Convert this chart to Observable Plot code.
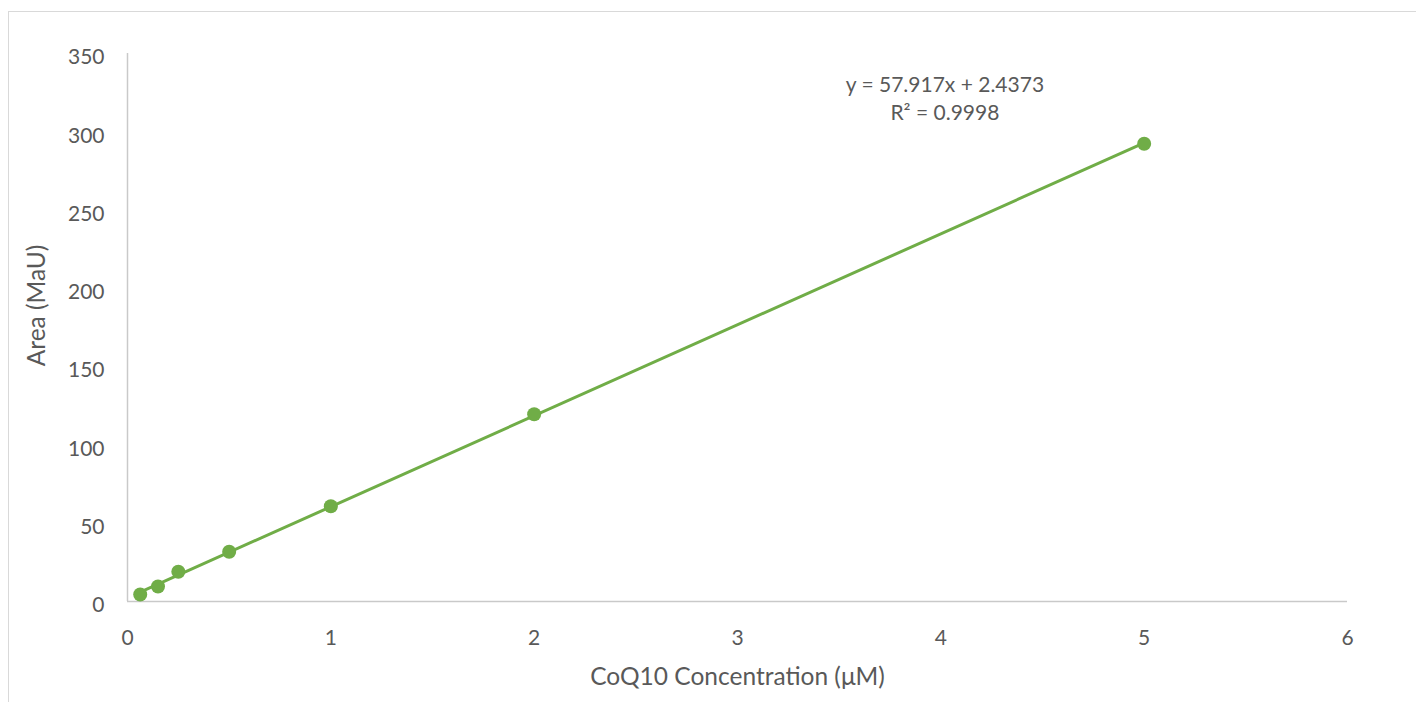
<!DOCTYPE html>
<html><head><meta charset="utf-8">
<script src="https://cdn.jsdelivr.net/npm/d3@7"></script>
<script src="https://cdn.jsdelivr.net/npm/@observablehq/plot@0.6"></script>
<style>
html,body{margin:0;padding:0;background:#fff;overflow:hidden}
#wrap{position:relative;width:1416px;height:702px}
#frame{position:absolute;left:8px;top:11px;width:1420px;height:700px;border:1.5px solid #d9d9d9;box-sizing:border-box}
#chart{position:absolute;left:0;top:0}
</style></head><body>
<div id="wrap"><div id="frame"></div><div id="chart"></div></div>
<script>
const concentration = [0.0625, 0.15, 0.25, 0.5, 1, 2, 5];
const area = [4.5, 9.6, 19, 31.8, 60.8, 119.6, 292.4];
const xTicks = [0, 1, 2, 3, 4, 5, 6];
const yTicks = [0, 50, 100, 150, 200, 250, 300, 350];
const equationText = "y = 57.917x + 2.4373\nR² = 0.9998";
const equationAt = {x: 4.02, y: 322};
const xTitle = "CoQ10 Concentration (μM)";
const yTitle = "Area (MaU)";

const data = concentration.map((x, i) => ({x, y: area[i]}));
const green = "#70AD47";
const textColor = "#595959";
const axisColor = "#c9c9c9";

const chart = Plot.plot({
  width: 1416,
  height: 702,
  marginLeft: 127,
  marginRight: 69,
  marginTop: 53,
  marginBottom: 101,
  style: {fontFamily: "Lato, sans-serif", color: textColor, background: "transparent"},
  x: {domain: [0, 6], ticks: xTicks, label: null},
  y: {domain: [0, 350], ticks: yTicks, label: null},
  marks: [
    Plot.axisY({ticks: yTicks, tickSize: 0, tickPadding: 23, fontSize: 21, fill: textColor, dy: 4, label: null, tickFormat: d3.format("d")}),
    Plot.axisX({ticks: xTicks, tickSize: 0, tickPadding: 29, fontSize: 21, fill: textColor, label: null, tickFormat: d3.format("d")}),
    Plot.ruleX([0], {stroke: axisColor, strokeWidth: 1.5}),
    Plot.ruleY([0], {stroke: axisColor, strokeWidth: 1.5}),
    Plot.linearRegressionY(data, {x: "x", y: "y", ci: 0, stroke: green, strokeWidth: 3}),
    Plot.dot(data, {x: "x", y: "y", r: 7, fill: green, stroke: "none"}),
    Plot.text([equationAt], {x: "x", y: "y", text: () => equationText, fontSize: 21, fill: textColor, lineHeight: 1.33}),
    Plot.text([xTitle], {frameAnchor: "bottom", text: d => d, textAnchor: "middle", lineAnchor: "middle", dx: 0, dy: 76, fontSize: 24.5, fill: textColor}),
    Plot.text([yTitle], {frameAnchor: "left", text: d => d, textAnchor: "middle", lineAnchor: "middle", rotate: -90, dx: -90, dy: -22, fontSize: 24.5, fill: textColor})
  ]
});
document.getElementById("chart").appendChild(chart);
</script>
</body></html>
